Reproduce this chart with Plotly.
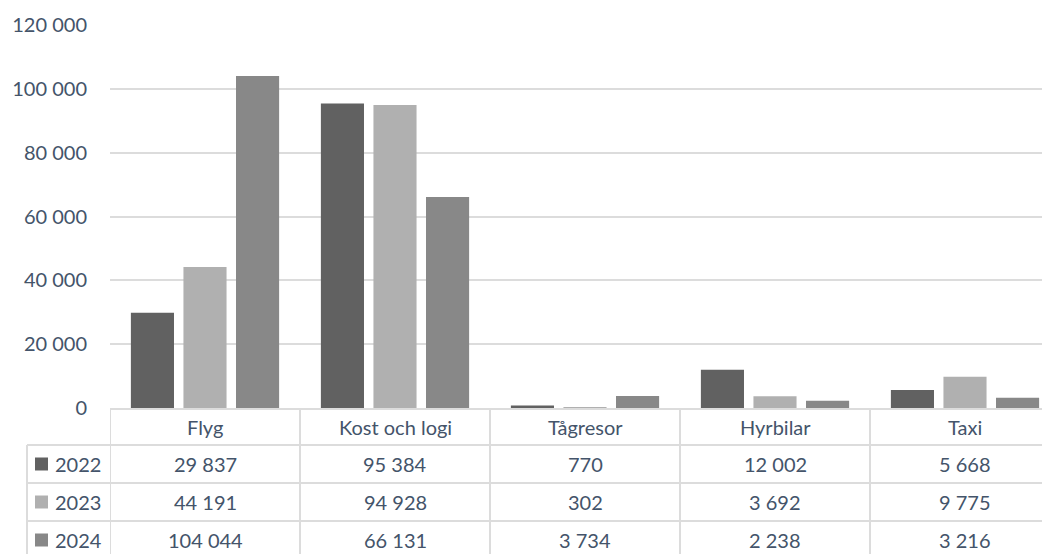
import plotly.graph_objects as go

categories = ["Flyg", "Kost och logi", "Tågresor", "Hyrbilar", "Taxi"]
years = ["2022", "2023", "2024"]
values_2022 = [29837, 95384, 770, 12002, 5668]
values_2023 = [44191, 94928, 302, 3692, 9775]
values_2024 = [104044, 66131, 3734, 2238, 3216]
y_ticks = [0, 20000, 40000, 60000, 80000, 100000, 120000]

series = [values_2022, values_2023, values_2024]
colors = ["#616161", "#B0B0B0", "#888888"]
text_color = "#44546A"
grid_color = "#DCDCDC"
FONT = "Lato, 'Open Sans', sans-serif"
FS = 20

# page body has an 8px margin; work in screen pixels and convert
OFF = 8
W, H = 1050 - OFF, 554 - OFF
ml, mr, mt, mb = 110 - OFF, 0, 25 - OFF, 554 - 408
plot_w = W - ml - mr
plot_h = H - mt - mb
col_px = 190  # width of one category column in pixels


def px(xs):
    return (xs - OFF - ml) / plot_w


def py(ys):
    return (H - mb - (ys - OFF)) / plot_h


fig = go.Figure()
xs = list(range(len(categories)))
for name, vals, col in zip(years, series, colors):
    fig.add_trace(go.Bar(x=xs, y=vals, name=name, marker=dict(color=col, line=dict(width=0))))

shapes = []
annotations = []

table_top = 409
row_lines = [445, 483, 521]
table_bottom = 570
label_left = 27

shapes.append(dict(type="line", xref="paper", yref="paper", x0=0, x1=1.05, y0=py(table_top), y1=py(table_top),
                   line=dict(color=grid_color, width=2)))
for rl in row_lines:
    shapes.append(dict(type="line", xref="paper", yref="paper", x0=px(label_left), x1=1.05, y0=py(rl), y1=py(rl),
                       line=dict(color=grid_color, width=2)))
shapes.append(dict(type="line", xref="paper", yref="paper", x0=px(label_left), x1=px(label_left),
                   y0=py(row_lines[0]), y1=py(table_bottom), line=dict(color=grid_color, width=2)))
for i in range(len(categories)):
    xv = i - 0.5
    shapes.append(dict(type="line", xref="x", yref="paper", x0=xv, x1=xv,
                       y0=py(table_top), y1=py(table_bottom), line=dict(color=grid_color, width=2)))

for i, c in enumerate(categories):
    annotations.append(dict(x=i, y=py(427), xref="x", yref="paper", text=c, showarrow=False,
                            xanchor="center", yanchor="middle",
                            font=dict(size=FS, color=text_color, family=FONT)))

row_centers = [464, 502, 540]
for yr, vals, col, rc in zip(years, series, colors, row_centers):
    shapes.append(dict(type="rect", xref="paper", yref="paper", x0=px(35), x1=px(48),
                       y0=py(rc - 6.5), y1=py(rc + 6.5), fillcolor=col, line=dict(width=0)))
    annotations.append(dict(x=px(53), y=py(rc), xref="paper", yref="paper", text=yr, showarrow=False,
                            xanchor="left", yanchor="middle",
                            font=dict(size=FS, color=text_color, family=FONT)))
    for i, v in enumerate(vals):
        annotations.append(dict(x=i, y=py(rc), xref="x", yref="paper",
                                text=f"{v:,}".replace(",", " "), showarrow=False,
                                xanchor="center", yanchor="middle",
                                font=dict(size=FS, color=text_color, family=FONT)))

fig.update_layout(
    width=W, height=H,
    margin=dict(l=ml, r=mr, t=mt, b=mb),
    paper_bgcolor="white", plot_bgcolor="white",
    barmode="group", bargap=0.17, bargroupgap=0.18,
    showlegend=False,
    separators=", ",
    font=dict(family=FONT, size=FS, color=text_color),
    shapes=shapes, annotations=annotations,
    xaxis=dict(range=[-0.5, -0.5 + plot_w / col_px], showticklabels=False, showgrid=False,
               zeroline=False, showline=False, fixedrange=True),
    yaxis=dict(range=[0, 120000], tickvals=y_ticks, tickformat=",d", showgrid=True,
               gridcolor=grid_color, gridwidth=1.5, zeroline=False, showline=False,
               ticks="", ticklabelstandoff=22,
               tickfont=dict(size=FS, color=text_color, family=FONT)),
)

fig.write_html("out.html")
